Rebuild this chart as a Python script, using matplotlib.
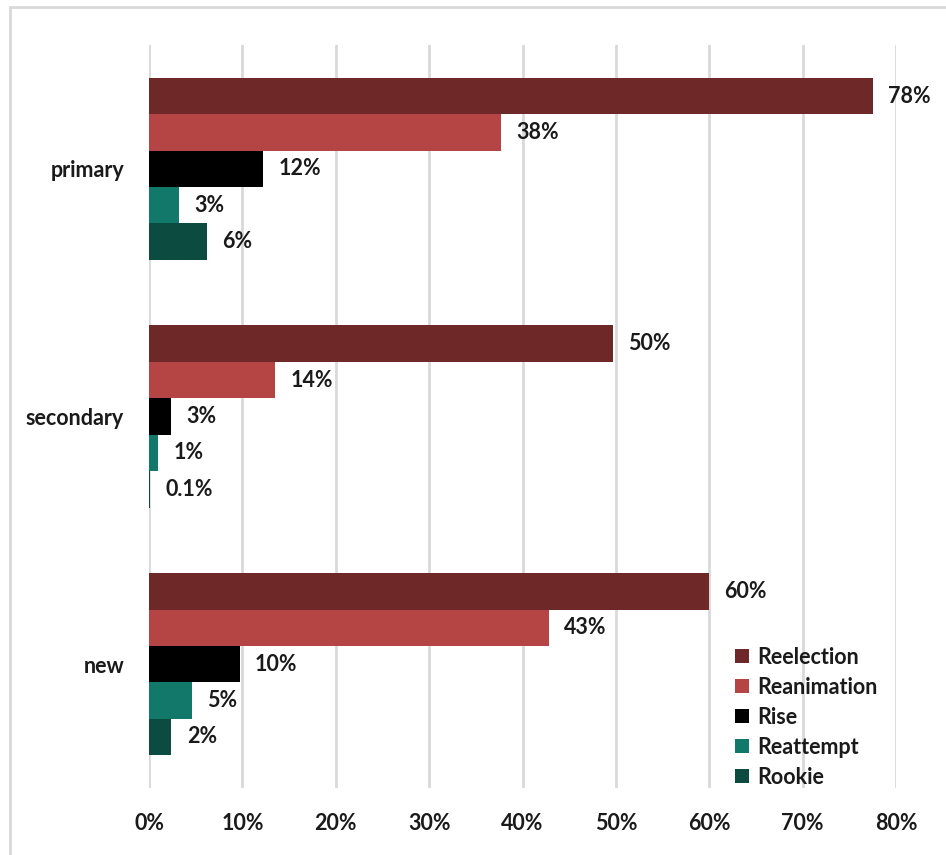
import numpy as np
import matplotlib
matplotlib.use('Agg')
from matplotlib import pyplot as plt
from matplotlib.patches import Rectangle

# Data
categories = ['primary', 'secondary', 'new']
series = ['Reelection', 'Reanimation', 'Rise', 'Reattempt', 'Rookie']
values = {
	'Reelection': [0.775, 0.497, 0.600],
	'Reanimation': [0.377, 0.135, 0.428],
	'Rise': [0.122, 0.024, 0.097],
	'Reattempt': [0.032, 0.010, 0.046],
	'Rookie': [0.062, 0.001, 0.024],
}
labels = {
	'Reelection': ['78%', '50%', '60%'],
	'Reanimation': ['38%', '14%', '43%'],
	'Rise': ['12%', '3%', '10%'],
	'Reattempt': ['3%', '1%', '5%'],
	'Rookie': ['6%', '0.1%', '2%'],
}
colors = ['#6E2828', '#B54545', '#000000', '#12796A', '#0B4B40']
xticks = [0, 0.1, 0.2, 0.3, 0.4, 0.5, 0.6, 0.7, 0.8]
xticklabels = ['0%', '10%', '20%', '30%', '40%', '50%', '60%', '70%', '80%']

plt.rcParams['font.family'] = ['Lato', 'DejaVu Sans']
plt.rcParams['font.weight'] = 'bold'
fs = 15.5

fig = plt.figure(figsize=(9.46, 8.55), dpi=100)
ax = fig.add_axes([149/946, 1-788/855, (896-149)/946, (788-45)/855])

h = 0.147
y = np.arange(len(categories))
for i, name in enumerate(series):
	pos = y + (i - 2) * h
	ax.barh(pos, values[name], height=h, color=colors[i], label=name, zorder=3)
	for p, v, t in zip(pos, values[name], labels[name]):
		ax.annotate(t, (v, p), xytext=(11, 0), textcoords='offset points',
			va='center', ha='left', fontsize=fs, fontweight='bold', color='#1A1A1A')

ax.set_xlim(0, 0.8)
ax.set_ylim(2.5, -0.5)
ax.set_xticks(xticks)
ax.set_xticklabels(xticklabels, fontsize=fs, fontweight='bold', color='#1A1A1A')
ax.set_yticks(y)
ax.set_yticklabels(categories, fontsize=fs, fontweight='bold', color='#1A1A1A')
ax.tick_params(axis='both', length=0)
ax.tick_params(axis='x', pad=18)
ax.tick_params(axis='y', pad=18)
ax.grid(axis='x', color='#D9D9D9', linewidth=2, zorder=0)
for s in ax.spines.values():
	s.set_visible(False)

leg = ax.legend(loc='lower right', bbox_to_anchor=(0.995, -0.02), frameon=False,
	fontsize=fs, handlelength=0.65, handleheight=0.65, handletextpad=0.35,
	labelspacing=0.42, borderpad=0.2)
for t in leg.get_texts():
	t.set_fontweight('bold')
	t.set_color('#1A1A1A')

# light frame around the chart
fig.patches.append(Rectangle((10/946, -0.05), 1.1, 1-7/855+0.05, transform=fig.transFigure,
	fill=False, edgecolor='#D9D9D9', linewidth=2))

plt.savefig('out.png', dpi=100)
plt.close()
